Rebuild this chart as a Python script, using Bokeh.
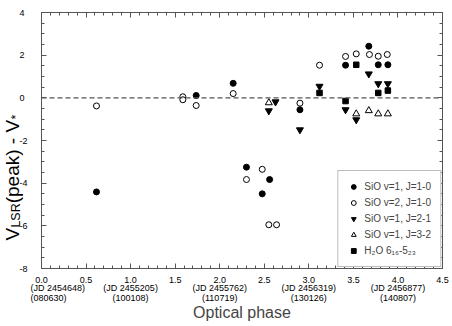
import math
from bokeh.plotting import figure
from bokeh.layouts import row
from bokeh.core.properties import value
from bokeh.models import Range1d, FixedTicker, LinearAxis, Span, Legend, LegendItem
from bokeh.embed import file_html
from bokeh.resources import INLINE

# ---------------- data ----------------
sio_v1_j10_phase = [0.617, 1.736, 2.151, 2.300, 2.560, 2.477, 2.900, 3.412, 3.673, 3.779, 3.887]
sio_v1_j10_vel = [-4.41, 0.11, 0.68, -3.25, -3.83, -4.50, -0.56, 1.53, 2.42, 1.55, 1.55]

sio_v2_j10_phase = [0.617, 1.586, 1.586, 1.736, 2.151, 2.477, 2.300, 2.551, 2.638, 2.900,
                    3.120, 3.412, 3.532, 3.680, 3.779, 3.880]
sio_v2_j10_vel = [-0.38, 0.05, -0.09, -0.36, 0.20, -3.35, -3.83, -5.95, -5.95, -0.25,
                  1.53, 1.94, 2.06, 2.03, 1.95, 2.03]

sio_v1_j21_phase = [2.551, 2.626, 2.900, 3.120, 3.412, 3.532, 3.673, 3.779, 3.887]
sio_v1_j21_vel = [-0.61, -0.19, -1.50, 0.54, -0.56, -1.03, 1.12, 0.66, 0.66]

sio_v1_j32_phase = [2.551, 3.532, 3.673, 3.779, 3.887]
sio_v1_j32_vel = [-0.23, -0.75, -0.60, -0.75, -0.75]

h2o_phase = [3.120, 3.412, 3.532, 3.779, 3.887]
h2o_vel = [0.23, -0.15, 1.55, 0.23, 0.34]

x_major_ticks = [0.0, 0.5, 1.0, 1.5, 2.0, 2.5, 3.0, 3.5, 4.0, 4.5]
x_tick_labels = ["0.0", "0.5", "1.0", "1.5", "2.0", "2.5", "3.0", "3.5", "4.0", "4.5"]
x_jd_labels = ["(JD 2454648)", "", "(JD 2455205)", "", "(JD 2455762)", "",
               "(JD 2456319)", "", "(JD 2456877)", ""]
x_date_labels = ["(080630)", "", "(100108)", "", "(110719)", "", "(130126)", "",
                 "(140807)", ""]
y_major_ticks = [-8, -6, -4, -2, 0, 2, 4]
y_tick_labels = ["-8", "-6", "-4", "-2", "0", "2", "4"]

series_labels = ["SiO v=1, J=1-0", "SiO v=2, J=1-0", "SiO v=1, J=2-1", "SiO v=1, J=3-2",
                 "H\u2082O 6\u2081\u2086-5\u2082\u2083"]

y_title_main = ["V", "(peak) - V"]
y_title_sub = ["LSR", "*"]

FONT = "Liberation Sans"
GREY = "#555555"
STRIP_W = 30

yr = Range1d(-8, 4)

p = figure(width=452 - STRIP_W, height=326, output_backend="svg", toolbar_location=None,
           x_range=Range1d(0, 4.5), y_range=yr,
           min_border_left=41 - STRIP_W, min_border_right=10, min_border_top=12,
           min_border_bottom=58)
p.background_fill_color = "white"
p.border_fill_color = "white"
p.outline_line_color = GREY
p.outline_line_width = 1
p.xgrid.visible = False
p.ygrid.visible = False

xt = FixedTicker(ticks=x_major_ticks, minor_ticks=[i / 10 for i in range(0, 46)])
yt = FixedTicker(ticks=y_major_ticks, minor_ticks=[-8 + i * 0.5 for i in range(0, 25)])


def style_axis(ax, ticker, show_labels):
    ax.ticker = ticker
    ax.axis_line_color = GREY
    ax.major_tick_line_color = GREY
    ax.minor_tick_line_color = GREY
    ax.major_tick_in = 5
    ax.major_tick_out = 0
    ax.minor_tick_in = 3
    ax.minor_tick_out = 0
    ax.major_label_text_font = FONT
    ax.major_label_text_color = "black"
    ax.major_label_text_font_size = "9px"
    if not show_labels:
        ax.major_label_text_font_size = "1px"
        ax.major_label_text_color = None
        ax.major_label_standoff = 0


def label_only_axis(ticker, labels, overrides_keys, standoff):
    ax = LinearAxis(ticker=ticker)
    ax.axis_line_color = None
    ax.major_tick_line_color = None
    ax.minor_tick_line_color = None
    ax.major_tick_in = 0
    ax.major_tick_out = 0
    ax.minor_tick_in = 0
    ax.minor_tick_out = 0
    ax.major_label_text_font = FONT
    ax.major_label_text_font_size = "9px"
    ax.major_label_text_color = "black"
    ax.major_label_standoff = standoff
    ax.major_label_overrides = {t: s for t, s in zip(overrides_keys, labels)}
    return ax


style_axis(p.xaxis[0], xt, True)
style_axis(p.yaxis[0], yt, False)          # tick marks only; labels live in the strip
p.xaxis[0].major_label_overrides = {t: s for t, s in zip(x_major_ticks, x_tick_labels)}
p.xaxis[0].major_label_standoff = 8

jd_axis = label_only_axis(xt, x_jd_labels, x_major_ticks, -3)
p.add_layout(jd_axis, "below")
date_axis = label_only_axis(xt, x_date_labels, x_major_ticks, -3)
date_axis.axis_label = "Optical phase"
date_axis.axis_label_text_font = FONT
date_axis.axis_label_text_font_size = "16px"
date_axis.axis_label_text_font_style = "normal"
date_axis.axis_label_standoff = -2
p.add_layout(date_axis, "below")

top = LinearAxis()
style_axis(top, xt, False)
p.add_layout(top, "above")
right = LinearAxis()
style_axis(right, yt, False)
p.add_layout(right, "right")

p.add_layout(Span(location=0, dimension="width", line_color=GREY, line_width=1.3,
                  line_dash="5 3"))

r_open_c = p.scatter(sio_v2_j10_phase, sio_v2_j10_vel, marker="circle", size=6,
                     fill_color="white", line_color="black", line_width=1)
r_fill_c = p.scatter(sio_v1_j10_phase, sio_v1_j10_vel, marker="circle", size=6,
                     fill_color="black", line_color="black")
r_open_t = p.scatter(sio_v1_j32_phase, sio_v1_j32_vel, marker="triangle", size=7,
                     fill_color="white", line_color="black", line_width=1)
r_sq = p.scatter(h2o_phase, h2o_vel, marker="square", size=5.5,
                 fill_color="black", line_color="black")
r_fill_t = p.scatter(sio_v1_j21_phase, sio_v1_j21_vel, marker="inverted_triangle", size=7,
                     fill_color="black", line_color="black")

legend = Legend(items=[LegendItem(label=series_labels[0], renderers=[r_fill_c]),
                       LegendItem(label=series_labels[1], renderers=[r_open_c]),
                       LegendItem(label=series_labels[2], renderers=[r_fill_t]),
                       LegendItem(label=series_labels[3], renderers=[r_open_t]),
                       LegendItem(label=series_labels[4], renderers=[r_sq])],
                location="bottom_right", margin=1, padding=9, spacing=3,
                glyph_width=12, glyph_height=13, label_height=13, label_standoff=5,
                label_text_font=FONT, label_text_font_size="10px",
                border_line_color="#777777", border_line_width=1,
                background_fill_color="white", background_fill_alpha=1)
p.add_layout(legend, "center")

# ---- left strip: y-axis title (with subscripts) + y tick labels ----
t = figure(width=STRIP_W, height=326, output_backend="svg", toolbar_location=None,
           x_range=Range1d(0, 20), y_range=yr,
           x_axis_location=None, y_axis_location="right",
           min_border_left=0, min_border_right=0, min_border_top=12, min_border_bottom=58)
t.outline_line_color = None
t.xgrid.visible = False
t.ygrid.visible = False
t.background_fill_color = "white"
t.border_fill_color = "white"
ya = t.yaxis[0]
ya.ticker = yt
ya.axis_line_color = None
ya.major_tick_line_color = None
ya.minor_tick_line_color = None
ya.major_tick_in = 0
ya.major_tick_out = 0
ya.minor_tick_in = 0
ya.minor_tick_out = 0
ya.major_label_text_font = FONT
ya.major_label_text_font_size = "9px"
ya.major_label_text_color = "black"
ya.major_label_standoff = -4
ya.major_label_overrides = {t_: s for t_, s in zip(y_major_ticks, y_tick_labels)}

ppu = 256 / 12.0                      # screen px per y unit
y0 = (97.3 - 240) / ppu               # bottom end of the title
w_v, w_lsr, w_peak = 12.7 / ppu, 24.5 / ppu, 83.5 / ppu
t.text(x=[10.7, 10.7], y=[y0, y0 + w_v + w_lsr], text=y_title_main,
       angle=math.pi / 2, text_font=value(FONT), text_font_size=value("19px"),
       text_align="left", text_baseline="alphabetic", text_color="black")
t.text(x=[13.2, 13.2], y=[y0 + w_v + 0.01, y0 + w_v + w_lsr + w_peak + 0.01],
       text=y_title_sub, angle=math.pi / 2, text_font=value(FONT),
       text_font_size=value("12.5px"), text_align="left", text_baseline="alphabetic",
       text_color="black")

layout = row(t, p)
open("out.html", "w").write(file_html(layout, INLINE))
